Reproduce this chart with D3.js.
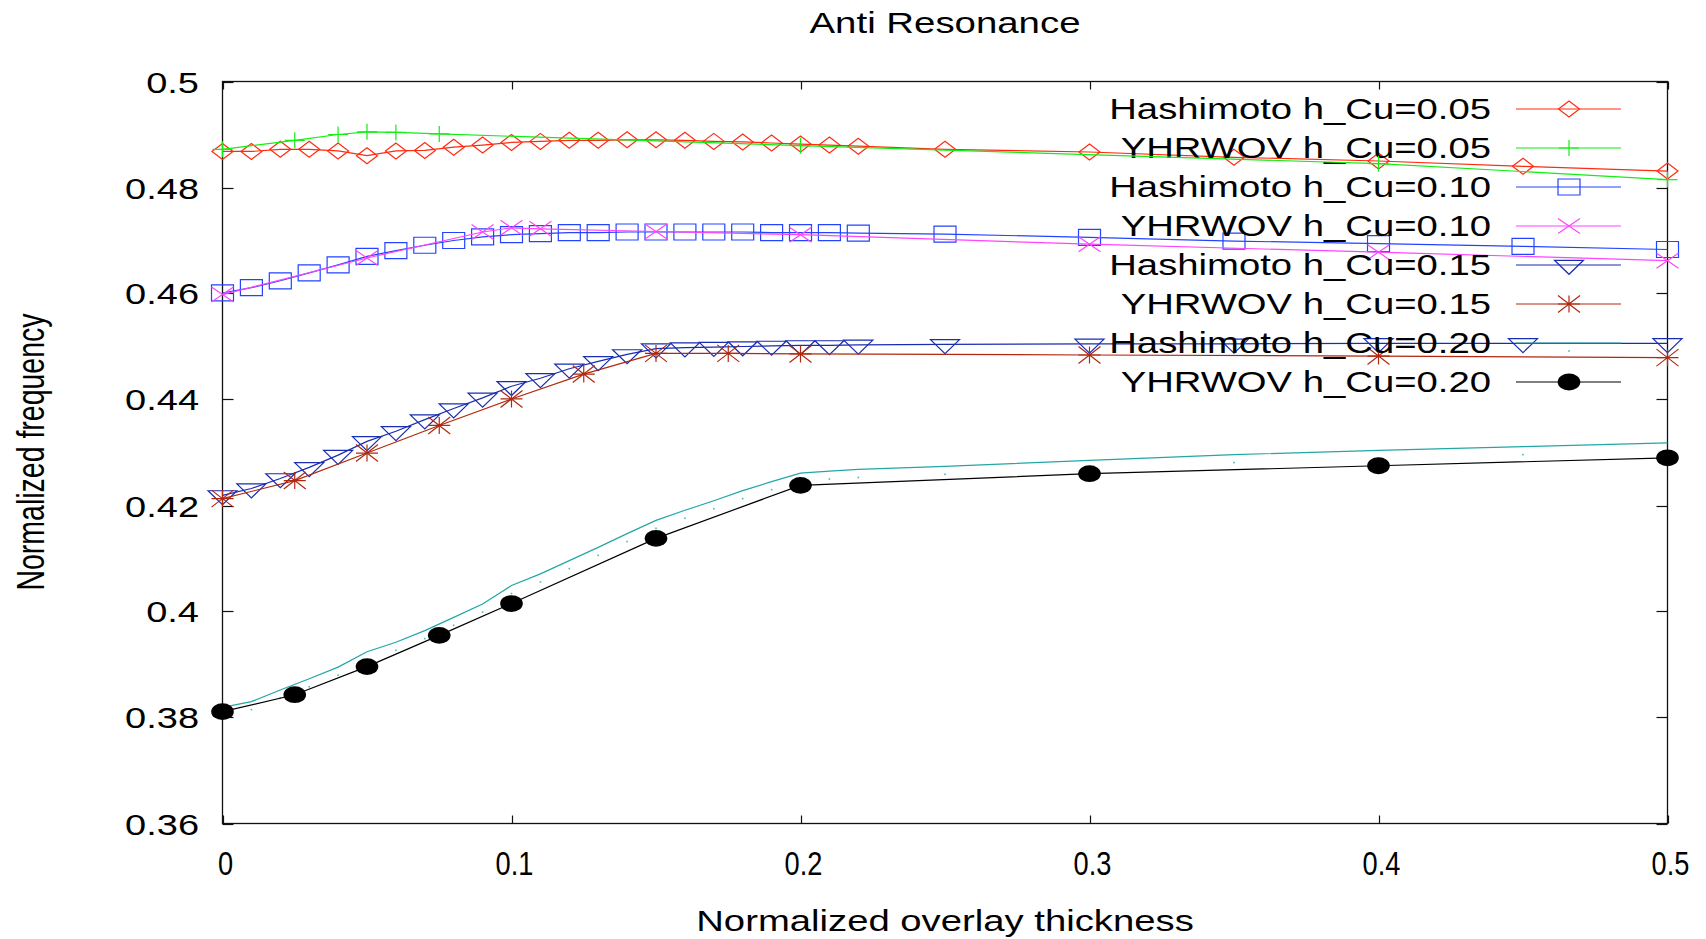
<!DOCTYPE html>
<html>
<head>
<meta charset="utf-8">
<script src="https://cdn.jsdelivr.net/npm/d3@7"></script>
<style>
  html, body { margin: 0; padding: 0; background: #fff; }
  svg { display: block; }
  text { font-family: "Liberation Sans", Arial, Helvetica, sans-serif; fill: #000; }
</style>
</head>
<body>
<svg id="chart" width="1706" height="939"></svg>
<script>
// ---- data -------------------------------------------------------------
const hashimotoX = [0, 0.01, 0.02, 0.03, 0.04, 0.05, 0.06, 0.07, 0.08, 0.09, 0.10,
  0.11, 0.12, 0.13, 0.14, 0.15, 0.16, 0.17, 0.18, 0.19, 0.20, 0.21, 0.22,
  0.25, 0.30, 0.35, 0.40, 0.45, 0.50];

const hashimoto005 = [0.4868, 0.4868, 0.4872, 0.4872, 0.4869, 0.4860, 0.4869, 0.4870, 0.4876, 0.4880, 0.4885,
  0.4887, 0.4889, 0.4889, 0.4890, 0.4890, 0.4889, 0.4887, 0.4886, 0.4884, 0.4882, 0.4880, 0.4878,
  0.4872, 0.4867, 0.4857, 0.4850, 0.4840, 0.4831];
const hashimoto010 = [0.4601, 0.4611, 0.4624, 0.4639, 0.4654, 0.4670, 0.4681, 0.4691, 0.4700, 0.4707, 0.4711,
  0.4713, 0.4715, 0.4715, 0.4716, 0.4716, 0.4716, 0.4716, 0.4716, 0.4715, 0.4715, 0.4715, 0.4714,
  0.4712, 0.4706, 0.4699, 0.4694, 0.4689, 0.4683];
const hashimoto015 = [0.4219, 0.4232, 0.4251, 0.4272, 0.4295, 0.4321, 0.4340, 0.4362, 0.4383, 0.4403, 0.4425,
  0.4440, 0.4458, 0.4472, 0.4485, 0.4496, 0.4498, 0.4499, 0.4500, 0.4501, 0.4502, 0.4502, 0.4503,
  0.4504, 0.4505, 0.4505, 0.4506, 0.4506, 0.4506];
const hashimoto020 = [0.3819, 0.3830, 0.3852, 0.3873, 0.3895, 0.3924, 0.3942, 0.3964, 0.3989, 0.4014, 0.4049,
  0.4071, 0.4096, 0.4121, 0.4147, 0.4172, 0.4191, 0.4209, 0.4228, 0.4245, 0.4261, 0.4265, 0.4268,
  0.4274, 0.4285, 0.4296, 0.4304, 0.4311, 0.4318];

const yhrwovX005 = [0, 0.025, 0.04, 0.05, 0.06, 0.075, 0.20, 0.40, 0.50];
const yhrwov005  = [0.4872, 0.4889, 0.4900, 0.4905, 0.4904, 0.4901, 0.4879, 0.4845, 0.4815];
const yhrwovX010 = [0, 0.05, 0.09, 0.10, 0.11, 0.15, 0.20, 0.30, 0.40, 0.50];
const yhrwov010  = [0.4598, 0.4667, 0.4716, 0.4724, 0.4722, 0.4717, 0.4711, 0.4693, 0.4678, 0.4662];
const yhrwovX015 = [0, 0.025, 0.05, 0.075, 0.10, 0.125, 0.15, 0.175, 0.20, 0.30, 0.40, 0.50];
const yhrwov015  = [0.4213, 0.4247, 0.4299, 0.4351, 0.4401, 0.4448, 0.4487, 0.4487, 0.4486, 0.4484, 0.4482, 0.4479];
const yhrwovX020 = [0, 0.025, 0.05, 0.075, 0.10, 0.15, 0.20, 0.30, 0.40, 0.50];
const yhrwov020  = [0.3811, 0.3843, 0.3896, 0.3955, 0.4015, 0.4138, 0.4238, 0.4260, 0.4275, 0.4290];

const xTicks = [0, 0.1, 0.2, 0.3, 0.4, 0.5];
const yTicks = [0.36, 0.38, 0.40, 0.42, 0.44, 0.46, 0.48, 0.50];
const xTickLabels = ["0", "0.1", "0.2", "0.3", "0.4", "0.5"];
const yTickLabels = ["0.36", "0.38", "0.4", "0.42", "0.44", "0.46", "0.48", "0.5"];

const seriesNames = [
  "Hashimoto h_Cu=0.05", "YHRWOV h_Cu=0.05",
  "Hashimoto h_Cu=0.10", "YHRWOV h_Cu=0.10",
  "Hashimoto h_Cu=0.15", "YHRWOV h_Cu=0.15",
  "Hashimoto h_Cu=0.20", "YHRWOV h_Cu=0.20"
];
const seriesColors = ["#ff2a10", "#11ee11", "#2244ff", "#ff44ff", "#1a2db0", "#b0280f", "#22a6a6", "#000000"];
const seriesMarkers = ["diamond", "plus", "square", "cross", "triangleDown", "star", "dot", "disc"];

// ---- layout -----------------------------------------------------------
const plot = { left: 222.5, right: 1667.5, top: 81.5, bottom: 823.5 };

const x = d3.scaleLinear().domain([0, 0.5]).range([plot.left, plot.right]);
const y = d3.scaleLinear().domain([0.36, 0.5]).range([plot.bottom, plot.top]);

const svg = d3.select("#chart");

// ---- marker shapes (half width / half height in px) -----------------
function markerPath(kind) {
  switch (kind) {
    case "diamond": { const w = 10.5, h = 8;
      return `M${-w},0L0,${-h}L${w},0L0,${h}Z`; }
    case "square": { const w = 11, h = 8;
      return `M${-w},${-h}H${w}V${h}H${-w}Z`; }
    case "plus": { const w = 10, h = 8;
      return `M${-w},0H${w}M0,${-h}V${h}`; }
    case "cross": { const w = 11, h = 7.5;
      return `M${-w},${-h}L${w},${h}M${-w},${h}L${w},${-h}`; }
    case "star": { const w = 11, h = 8.5;
      return `M${-w},0H${w}M0,${-h}V${h}M${-w},${-h}L${w},${h}M${-w},${h}L${w},${-h}`; }
    case "triangleDown": { const w = 14.5, t = 4.7, b = 9.3;
      return `M${-w},${-t}H${w}L0,${b}Z`; }
    default: return null;
  }
}

function drawMarker(g, kind, color, px, py) {
  if (kind === "disc") {
    g.append("ellipse").attr("cx", px).attr("cy", py).attr("rx", 11.3).attr("ry", 8.4)
      .attr("fill", color);
  } else if (kind === "dot") {
    // the point glyph sits a few pixels under its line
    g.append("rect").attr("x", px - 0.8).attr("y", py + 7.2).attr("width", 1.6).attr("height", 1.6)
      .attr("fill", color).attr("opacity", 0.8);
  } else {
    g.append("path").attr("transform", `translate(${px},${py})`).attr("d", markerPath(kind))
      .attr("fill", "none").attr("stroke", color).attr("stroke-width", 1.2);
  }
}

// text helper: glyphs are drawn wider than tall (sx) around an anchor point
function label(parent, px, py, str, size, sx, anchor, rotate) {
  return parent.append("text")
    .attr("transform", `translate(${px},${py}) scale(${sx},1)` + (rotate ? ` rotate(${rotate})` : ""))
    .attr("text-anchor", anchor).attr("dy", "0.36em")
    .style("font-size", size + "px").text(str);
}

// ---- frame, ticks, labels --------------------------------------------
const axes = svg.append("g");
axes.append("rect")
  .attr("x", plot.left).attr("y", plot.top)
  .attr("width", plot.right - plot.left).attr("height", plot.bottom - plot.top)
  .attr("fill", "none").attr("stroke", "#111").attr("stroke-width", 1.3);

yTicks.forEach((v, i) => {
  const py = Math.round(y(v)) + 0.5;
  axes.append("line").attr("x1", plot.left).attr("x2", plot.left + 11).attr("y1", py).attr("y2", py)
    .attr("stroke", "#111").attr("stroke-width", 1.2);
  axes.append("line").attr("x1", plot.right - 11).attr("x2", plot.right).attr("y1", py).attr("y2", py)
    .attr("stroke", "#111").attr("stroke-width", 1.2);
  label(axes, 199, py, yTickLabels[i], 29, 1.31, "end");
});

xTicks.forEach((v, i) => {
  const px = Math.round(x(v)) + 0.5;
  axes.append("line").attr("x1", px).attr("x2", px).attr("y1", plot.bottom).attr("y2", plot.bottom - 8)
    .attr("stroke", "#111").attr("stroke-width", 1.2);
  axes.append("line").attr("x1", px).attr("x2", px).attr("y1", plot.top).attr("y2", plot.top + 8)
    .attr("stroke", "#111").attr("stroke-width", 1.2);
  label(axes, px + 2, 863, xTickLabels[i], 34, 0.8, "middle");
});

label(svg, 945, 22, "Anti Resonance", 30, 1.28, "middle");
label(svg, 945, 921, "Normalized overlay thickness", 29, 1.32, "middle");
label(svg, 30, 452, "Normalized frequency", 28.5, 1.38, "middle", -90);

// ---- series -----------------------------------------------------------
const series = [
  { xs: hashimotoX, ys: hashimoto005 },
  { xs: yhrwovX005, ys: yhrwov005 },
  { xs: hashimotoX, ys: hashimoto010 },
  { xs: yhrwovX010, ys: yhrwov010 },
  { xs: hashimotoX, ys: hashimoto015 },
  { xs: yhrwovX015, ys: yhrwov015 },
  { xs: hashimotoX, ys: hashimoto020 },
  { xs: yhrwovX020, ys: yhrwov020 }
];

const line = d3.line().x(d => x(d[0])).y(d => y(d[1]));
const legend = { textRight: 1491, lineFrom: 1516, lineTo: 1621, marker: 1569, top: 109, step: 39 };

const dataLayer = svg.append("g");
series.forEach((s, i) => {
  const pts = s.xs.map((v, k) => [v, s.ys[k]]);
  const g = dataLayer.append("g");
  const color = seriesColors[i];

  // key entry
  const ky = legend.top + i * legend.step;
  label(g, legend.textRight, ky, seriesNames[i], 29, 1.32, "end");
  g.append("line").attr("x1", legend.lineFrom).attr("x2", legend.lineTo).attr("y1", ky).attr("y2", ky)
    .attr("stroke", color).attr("stroke-width", 1.2);
  drawMarker(g, seriesMarkers[i], color, legend.marker, ky);

  // curve and its points
  g.append("path").datum(pts).attr("d", line)
    .attr("fill", "none").attr("stroke", color).attr("stroke-width", 1.2);
  pts.forEach(p => drawMarker(g, seriesMarkers[i], color, x(p[0]), y(p[1])));
});
</script>
</body>
</html>
